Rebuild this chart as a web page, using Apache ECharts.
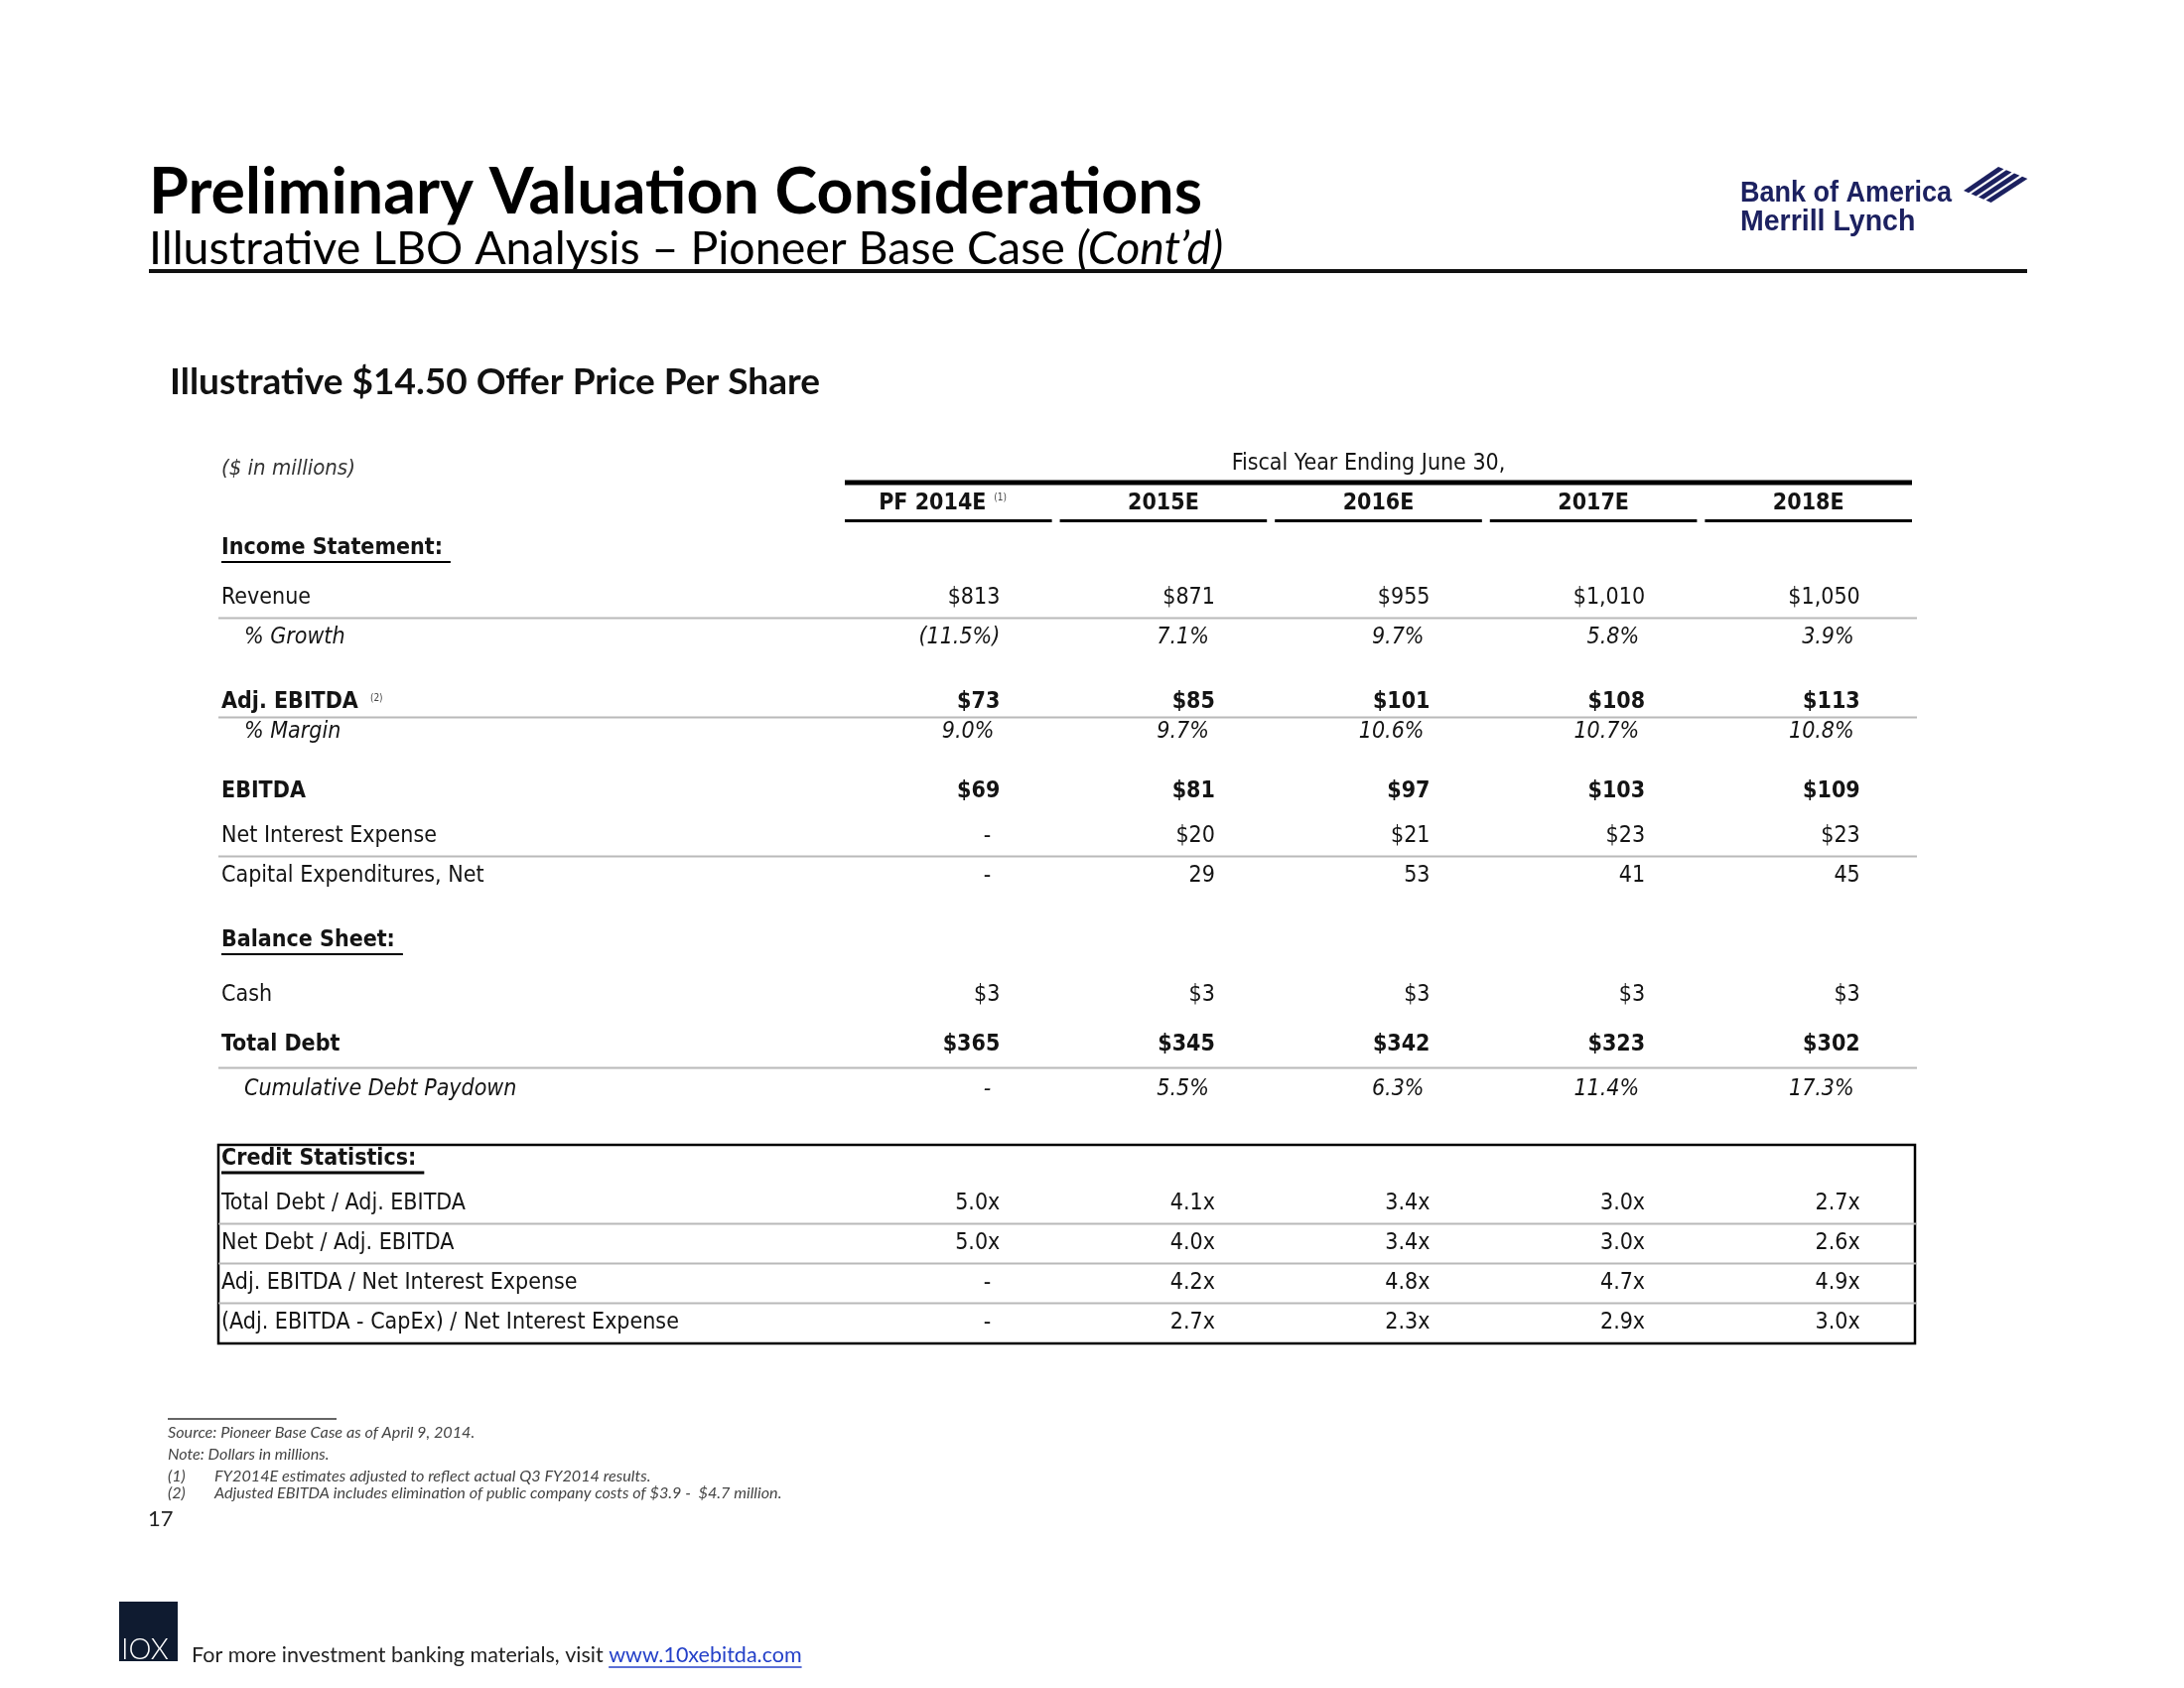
<!DOCTYPE html>
<html><head><meta charset="utf-8">
<script src="https://cdn.jsdelivr.net/npm/echarts@6/dist/echarts.min.js"></script>
<style>html,body{margin:0;padding:0;background:#fff}#c{width:2200px;height:1700px}</style>
</head><body><div id="c"></div>
<script>
// ---------------- DATA ----------------
const years = ['PF 2014E', '2015E', '2016E', '2017E', '2018E'];
const yearNotes = ['(1)', '', '', '', ''];
const rowLabels = ['Income Statement:', 'Revenue', '% Growth', 'Adj. EBITDA', '% Margin', 'EBITDA',
  'Net Interest Expense', 'Capital Expenditures, Net', 'Balance Sheet:', 'Cash', 'Total Debt',
  'Cumulative Debt Paydown', 'Credit Statistics:', 'Total Debt / Adj. EBITDA', 'Net Debt / Adj. EBITDA',
  'Adj. EBITDA / Net Interest Expense', '(Adj. EBITDA - CapEx) / Net Interest Expense'];
const revenue = [813, 871, 955, 1010, 1050];
const revenueGrowth = [-11.5, 7.1, 9.7, 5.8, 3.9];
const adjEbitda = [73, 85, 101, 108, 113];
const adjEbitdaMargin = [9.0, 9.7, 10.6, 10.7, 10.8];
const ebitda = [69, 81, 97, 103, 109];
const netInterestExpense = [null, 20, 21, 23, 23];
const capexNet = [null, 29, 53, 41, 45];
const cash = [3, 3, 3, 3, 3];
const totalDebt = [365, 345, 342, 323, 302];
const cumulativeDebtPaydown = [null, 5.5, 6.3, 11.4, 17.3];
const totalDebtToAdjEbitda = [5.0, 4.1, 3.4, 3.0, 2.7];
const netDebtToAdjEbitda = [5.0, 4.0, 3.4, 3.0, 2.6];
const adjEbitdaToInterest = [null, 4.2, 4.8, 4.7, 4.9];
const adjEbitdaLessCapexToInterest = [null, 2.7, 2.3, 2.9, 3.0];

// ---------------- LAYOUT / FORMAT ----------------
const TF = "'Liberation Sans Narrow','Arial Narrow','DejaVu Sans Condensed',Lato,sans-serif";
const LF = "Lato,'Open Sans',sans-serif";
const FS = 23;
const INK = '#141414';
const RULE = '#b9b9b9';
const LABEL_X = 223, INDENT_X = 246, RULE_X1 = 220, RULE_X2 = 1931;
// row spec: values series, format, style, and gap (in line units) from previous row
const rowSpec = [
  {values: null, type: 'section', gap: 9},
  {values: revenue, fmt: 'dollar', gap: 10, rule: true},
  {values: revenueGrowth, fmt: 'pct', italic: true, indent: true, gap: 8},
  {values: adjEbitda, fmt: 'dollar', bold: true, note: '(2)', gap: 13, rule: true},
  {values: adjEbitdaMargin, fmt: 'pct', italic: true, indent: true, gap: 6},
  {values: ebitda, fmt: 'dollar', bold: true, gap: 12},
  {values: netInterestExpense, fmt: 'dollar', gap: 9, rule: true},
  {values: capexNet, fmt: 'number', gap: 8},
  {values: null, type: 'section', gap: 13},
  {values: cash, fmt: 'dollar', gap: 11},
  {values: totalDebt, fmt: 'dollar', bold: true, gap: 10, rule: true},
  {values: cumulativeDebtPaydown, fmt: 'pct', italic: true, indent: true, gap: 9},
  {values: null, type: 'section', box: true, gap: 14},
  {values: totalDebtToAdjEbitda, fmt: 'mult', gap: 9, rule: true},
  {values: netDebtToAdjEbitda, fmt: 'mult', gap: 8, rule: true},
  {values: adjEbitdaToInterest, fmt: 'mult', gap: 8, rule: true},
  {values: adjEbitdaLessCapexToInterest, fmt: 'mult', gap: 8}
];
const HEADER_SLOT = 8, TOPRULE_SLOT = 4;
let acc = HEADER_SLOT;
const slots = rowSpec.map(r => (acc += r.gap));
const MAX_SLOT = slots[slots.length - 1];

function fmtVal(v, f) {
  if (v == null) return '-';
  if (f === 'dollar') return '$' + v.toLocaleString('en-US');
  if (f === 'number') return String(v);
  if (f === 'pct') return v < 0 ? '(' + Math.abs(v).toFixed(1) + '%)' : v.toFixed(1) + '%';
  if (f === 'mult') return v.toFixed(1) + 'x';
  return String(v);
}
function padFor(t) {
  if (t === '-') return -9;
  if (/%$/.test(t)) return -6;
  return 0;
}

const measureCtx = document.createElement('canvas').getContext('2d');
function textW(font, t) { measureCtx.font = font; return measureCtx.measureText(t).width; }

// cells
const cellData = [], cellInfo = [];
rowSpec.forEach((r, ri) => {
  if (!r.values) return;
  r.values.forEach((v, ci) => {
    cellData.push([ci, slots[ri]]);
    cellInfo.push({text: fmtVal(v, r.fmt), bold: !!r.bold, italic: !!r.italic});
  });
});

function renderCell(params, api) {
  const info = cellInfo[params.dataIndex];
  const pt = api.coord([api.value(0), api.value(1)]);
  return {
    type: 'text', x: pt[0] + 52 + padFor(info.text), y: pt[1],
    style: {text: info.text, fontFamily: TF, fontSize: FS, fontWeight: info.bold ? 'bold' : 'normal',
      fontStyle: info.italic ? 'italic' : 'normal', fill: INK, align: 'right', verticalAlign: 'middle'}
  };
}

function renderLabel(params, api) {
  const ri = params.dataIndex;
  const r = rowSpec[ri];
  const pt = api.coord([0, api.value(1)]);
  const y = pt[1];
  const bold = r.bold || r.type === 'section';
  const font = (r.italic ? 'italic ' : '') + (bold ? 'bold ' : '') + FS + 'px ' + TF;
  const x = r.indent ? INDENT_X : LABEL_X;
  const ch = [{
    type: 'text', x: x, y: y,
    style: {text: rowLabels[ri], fontFamily: TF, fontSize: FS, fontWeight: bold ? 'bold' : 'normal',
      fontStyle: r.italic ? 'italic' : 'normal', fill: INK, align: 'left', verticalAlign: 'middle'}
  }];
  const w = textW(font, rowLabels[ri]);
  if (r.note) {
    ch.push({type: 'text', x: x + w + 12, y: y - 4,
      style: {text: r.note, fontFamily: TF, fontSize: 10, fill: '#444', align: 'left', verticalAlign: 'middle'}});
  }
  if (r.type === 'section') {
    ch.push({type: 'line', shape: {x1: LABEL_X, y1: y + 14, x2: LABEL_X + w + 8, y2: y + 14},
      style: {stroke: '#000', lineWidth: r.box ? 3 : 2}});
  }
  if (r.rule && ri + 1 < slots.length) {
    const yn = api.coord([0, slots[ri + 1]])[1];
    const ym = Math.round((y + yn) / 2) + 0.5;
    ch.push({type: 'line', shape: {x1: RULE_X1, y1: ym, x2: RULE_X2, y2: ym}, style: {stroke: RULE, lineWidth: 2}});
  }
  if (r.box) {
    const yb = api.coord([0, MAX_SLOT])[1] + 21;
    ch.push({type: 'rect', shape: {x: RULE_X1, y: y - 14, width: 1929 - RULE_X1, height: yb - (y - 14)},
      style: {fill: 'none', stroke: '#000', lineWidth: 2.5}});
  }
  return {type: 'group', children: ch};
}

function renderHeader(params, api) {
  const c = api.value(0);
  const pt = api.coord([c, api.value(1)]);
  const bw = api.size([1, 0])[0];
  const ch = [];
  const note = yearNotes[c];
  ch.push({type: 'text', x: pt[0] - (note ? 16 : 0), y: pt[1],
    style: {text: years[c], fontFamily: TF, fontSize: 23, fontWeight: 'bold', fill: INK, align: 'center', verticalAlign: 'middle'}});
  if (note) {
    ch.push({type: 'text', x: pt[0] + 46, y: pt[1] - 6,
      style: {text: note, fontFamily: TF, fontSize: 10, fill: '#444', align: 'left', verticalAlign: 'middle'}});
  }
  const yl = pt[1] + 17.5;
  ch.push({type: 'line', shape: {x1: pt[0] - bw / 2 + 4, y1: yl, x2: pt[0] + bw / 2 - 4, y2: yl},
    style: {stroke: '#000', lineWidth: 3}});
  if (c === 0) {
    const a = api.coord([0, TOPRULE_SLOT]);
    const b = api.coord([years.length - 1, TOPRULE_SLOT]);
    ch.push({type: 'line', shape: {x1: a[0] - bw / 2 + 4, y1: a[1] - 1, x2: b[0] + bw / 2 - 4, y2: b[1] - 1},
      style: {stroke: '#000', lineWidth: 5}});
    const f = api.coord([2, 0]);
    ch.push({type: 'text', x: f[0] - 10, y: f[1],
      style: {text: 'Fiscal Year Ending June 30,', fontFamily: TF, fontSize: 23, fill: INK, align: 'center', verticalAlign: 'middle'}});
  }
  return {type: 'group', children: ch};
}

// flag stripes for logo
function flag() {
  const L = [1978, 192], B = [2008, 205], T = [2013, 168], R = [2045, 181];
  const lerp = (p, q, t) => [p[0] + (q[0] - p[0]) * t, p[1] + (q[1] - p[1]) * t];
  const out = [];
  for (let k = 0; k < 4; k++) {
    const t0 = k / 4, t1 = t0 + 0.17;
    out.push({type: 'polygon', shape: {points: [lerp(L, B, t0), lerp(T, R, t0), lerp(T, R, t1), lerp(L, B, t1)]},
      style: {fill: '#1c2160'}});
  }
  return out;
}

const footFont = 'normal 21.5px ' + LF;
const footText = 'For more investment banking materials, visit ';
const footW = textW(footFont, footText);
const linkText = 'www.10xebitda.com';
const linkW = textW(footFont, linkText);
const NOTE_STYLE = {fontFamily: LF, fontSize: 16.2, fontStyle: 'italic', fill: '#444', verticalAlign: 'middle'};
const note = (x, y, t) => ({type: 'text', x: x, y: y, style: Object.assign({text: t}, NOTE_STYLE)});
const LOGO_FONT = "'Liberation Sans',Arial,sans-serif";

const graphics = [
  {type: 'text', x: 150, y: 194, style: {text: 'Preliminary Valuation Considerations', fontFamily: LF, fontSize: 64.5, fontWeight: 'bold', fill: '#000', verticalAlign: 'middle'}},
  {type: 'text', x: 150, y: 251, style: {text: '{a|Illustrative LBO Analysis \u2013 Pioneer Base Case }{b|(Cont\u2019d)}', verticalAlign: 'middle',
    rich: {a: {fontFamily: LF, fontSize: 46.5, fill: '#000'}, b: {fontFamily: LF, fontSize: 46.5, fontStyle: 'italic', fill: '#000'}}}},
  {type: 'line', shape: {x1: 150, y1: 273, x2: 2042, y2: 273}, style: {stroke: '#111', lineWidth: 4}},
  {type: 'text', x: 1753, y: 195, scaleX: 0.9, style: {text: 'Bank of America', fontFamily: LOGO_FONT, fontSize: 30, fontWeight: 'bold', fill: '#1c2160', verticalAlign: 'middle'}},
  {type: 'text', x: 1753, y: 224, scaleX: 0.95, style: {text: 'Merrill Lynch', fontFamily: LOGO_FONT, fontSize: 30, fontWeight: 'bold', fill: '#1c2160', verticalAlign: 'middle'}},
  ...flag(),
  {type: 'text', x: 171, y: 385, style: {text: 'Illustrative $14.50 Offer Price Per Share', fontFamily: LF, fontSize: 37, fontWeight: 'bold', fill: '#111', verticalAlign: 'middle'}},
  {type: 'text', x: 223, y: 472, style: {text: '($ in millions)', fontFamily: TF, fontSize: 22, fontStyle: 'italic', fill: '#333', verticalAlign: 'middle'}},
  {type: 'line', shape: {x1: 169, y1: 1429, x2: 339, y2: 1429}, style: {stroke: '#333', lineWidth: 1.5}},
  note(169, 1443, 'Source: Pioneer Base Case as of April 9, 2014.'),
  note(169, 1465, 'Note: Dollars in millions.'),
  note(169, 1487, '(1)'),
  note(216, 1487, 'FY2014E estimates adjusted to reflect actual Q3 FY2014 results.'),
  note(169, 1504, '(2)'),
  note(216, 1504, 'Adjusted EBITDA includes elimination of public company costs of $3.9 -  $4.7 million.'),
  {type: 'text', x: 149, y: 1530, style: {text: '17', fontFamily: LF, fontSize: 22, fill: '#222', verticalAlign: 'middle'}},
  {type: 'rect', shape: {x: 120, y: 1613, width: 59, height: 60}, style: {fill: '#0f1b30'}},
  {type: 'text', x: 122, y: 1662, style: {text: 'IOX', fontFamily: LF, fontSize: 29, fontWeight: 300, fill: '#fff', verticalAlign: 'middle'}},
  {type: 'text', x: 193, y: 1667, style: {text: footText, fontFamily: LF, fontSize: 21.5, fill: '#222', verticalAlign: 'middle'}},
  {type: 'text', x: 193 + footW, y: 1667, style: {text: linkText, fontFamily: LF, fontSize: 21.5, fill: '#2440c8', verticalAlign: 'middle'}},
  {type: 'line', shape: {x1: 193 + footW, y1: 1679, x2: 193 + footW + linkW, y2: 1679}, style: {stroke: '#2440c8', lineWidth: 1.5}}
];

const chart = echarts.init(document.getElementById('c'), null, {renderer: 'canvas'});
chart.setOption({
  animation: false,
  backgroundColor: '#fff',
  grid: {left: 847, right: 270, top: 467, height: MAX_SLOT * 5},
  xAxis: {type: 'category', data: years, show: false},
  yAxis: {type: 'value', min: 0, max: MAX_SLOT, inverse: true, show: false},
  series: [
    {type: 'custom', name: 'header', coordinateSystem: 'cartesian2d', clip: false,
      data: years.map((y, i) => [i, HEADER_SLOT]), encode: {x: 0, y: 1}, renderItem: renderHeader},
    {type: 'custom', name: 'labels', coordinateSystem: 'cartesian2d', clip: false,
      data: slots.map(s => [0, s]), encode: {x: 0, y: 1}, renderItem: renderLabel},
    {type: 'custom', name: 'cells', coordinateSystem: 'cartesian2d', clip: false,
      data: cellData, encode: {x: 0, y: 1}, renderItem: renderCell}
  ],
  graphic: graphics
});
</script>
</body></html>
